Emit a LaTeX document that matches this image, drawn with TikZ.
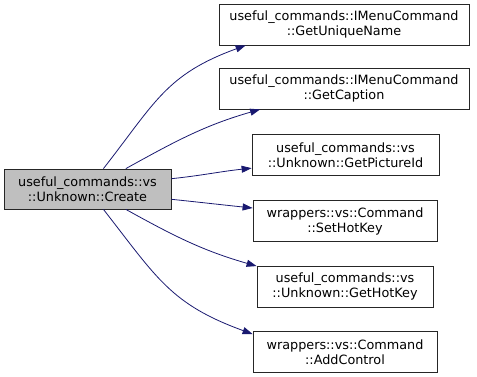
\documentclass[tikz,border=0pt]{standalone}
\usepackage{fontspec}
\setmainfont{DejaVu Sans}
\usepackage{tikz}
\usetikzlibrary{arrows.meta}
\definecolor{calledge}{HTML}{191970}
\definecolor{cursel}{HTML}{BFBFBF}
\tikzset{>={Triangle[width=7pt,length=10pt]}}
\tikzset{
  fn/.style={draw=black!85, line width=0.8pt, fill=white, align=center,
    inner sep=0pt, minimum height=41pt,
    font=\fontsize{12.8}{15}\selectfont},
  call/.style={->, draw=calledge, line width=0.8pt}
}

\begin{document}
\begin{tikzpicture}[x=1pt,y=1pt]

  \useasboundingbox (0,0) rectangle (477,377);

  %% caller
  \node[fn, fill=cursel, minimum width=167pt, minimum height=40pt] (create)
    at (87.5,188) {useful\_commands::vs\\::Unknown::Create};

  %% callees, top to bottom
  \node[fn, minimum width=250pt] (uniq)  at (344,352.5) {useful\_commands::IMenuCommand\\::GetUniqueName};
  \node[fn, minimum width=250pt] (capt)  at (344,288.5) {useful\_commands::IMenuCommand\\::GetCaption};
  \node[fn, minimum width=187pt] (picid) at (345.5,222) {useful\_commands::vs\\::Unknown::GetPictureId};
  \node[fn, minimum width=184pt] (sethk) at (345,156)   {wrappers::vs::Command\\::SetHotKey};
  \node[fn, minimum width=176pt] (gethk) at (345,90.5)  {useful\_commands::vs\\::Unknown::GetHotKey};
  \node[fn, minimum width=184pt] (addct) at (345,25)    {wrappers::vs::Command\\::AddControl};

  \draw[call] (create.52)  to[out=52,in=200,looseness=1.15] (uniq.192);
  \draw[call] (create.28)  to[out=29,in=196] (capt.194);
  \draw[call] (create.7)   to[out=6,in=186]  (picid.188);
  \draw[call] (create.-7)  to[out=-6,in=174] (sethk.172);
  \draw[call] (create.-28) to[out=-29,in=164] (gethk.167);
  \draw[call] (create.-52) to[out=-52,in=160,looseness=1.15] (addct.169);

\end{tikzpicture}
\end{document}
